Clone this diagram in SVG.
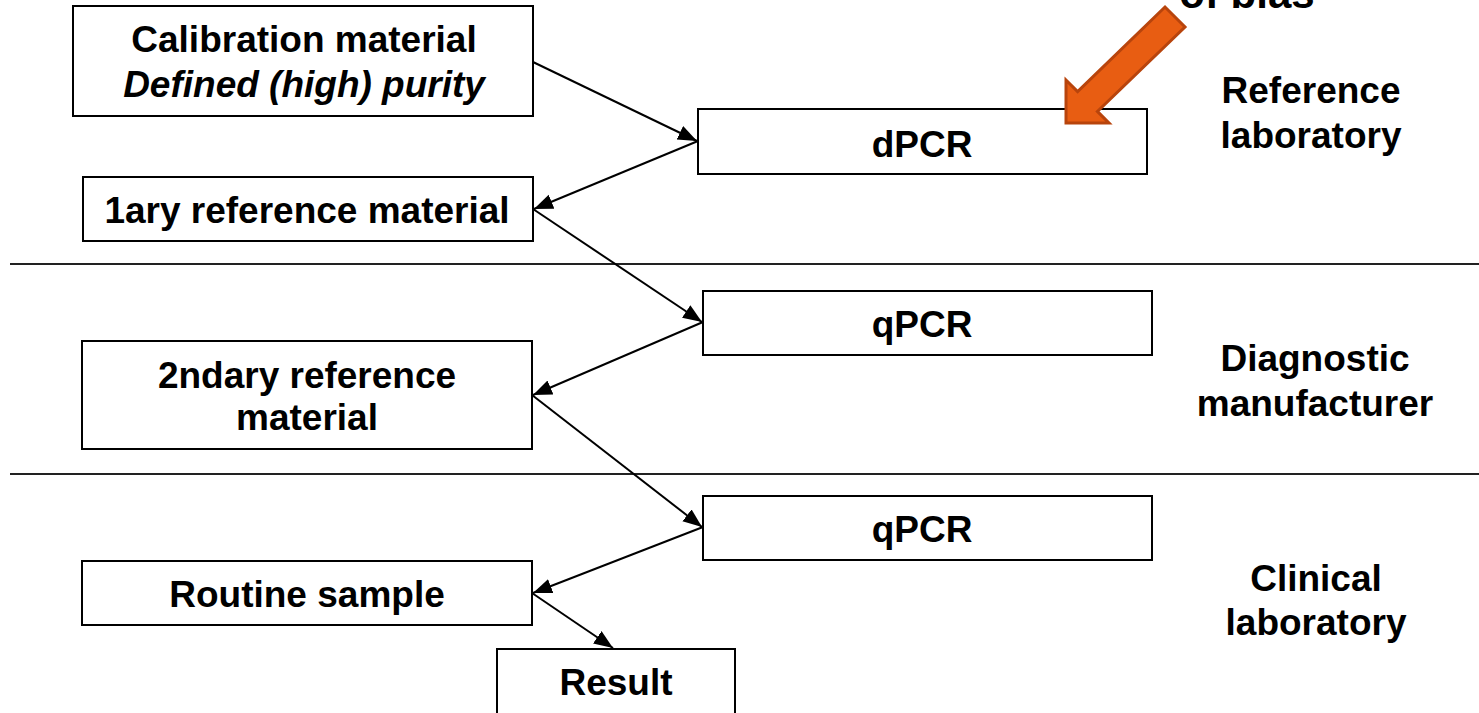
<svg xmlns="http://www.w3.org/2000/svg" width="1479" height="713" viewBox="0 0 1479 713">
<style>
.box{fill:#fff;stroke:#000;stroke-width:2}
.t{font-family:"Liberation Sans",Arial,sans-serif;font-weight:bold;font-size:37px;fill:#000;text-anchor:middle}
.it{font-style:italic}
.sep{stroke:#222;stroke-width:2}
.con{stroke:#000;stroke-width:2;fill:none;marker-end:url(#ah)}
</style>
<defs>
<marker id="ah" markerUnits="userSpaceOnUse" markerWidth="22" markerHeight="18" refX="19" refY="7.5" orient="auto">
<path d="M0,0 L19,7.5 L0,15 z" fill="#000"/>
</marker>
</defs>
<rect width="1479" height="713" fill="#fff"/>
<g id="separators">
<line class="sep" x1="10" y1="264" x2="1479" y2="264"/>
<line class="sep" x1="10" y1="474" x2="1479" y2="474"/>
</g>
<g id="calibration">
<rect class="box" x="73" y="6" width="460" height="110"/>
<text class="t" x="304" y="52">Calibration material</text>
<text class="t it" x="304" y="97">Defined (high) purity</text>
</g>
<g id="dpcr">
<rect class="box" x="698" y="109" width="449" height="65"/>
<text class="t" x="922" y="157">dPCR</text>
</g>
<g id="primary">
<rect class="box" x="83" y="177" width="450" height="64"/>
<text class="t" x="307" y="223">1ary reference material</text>
</g>
<g id="qpcr1">
<rect class="box" x="703" y="291" width="449" height="64"/>
<text class="t" x="922" y="337">qPCR</text>
</g>
<g id="secondary">
<rect class="box" x="82" y="341" width="450" height="108"/>
<text class="t" x="307" y="388">2ndary reference</text>
<text class="t" x="307" y="430">material</text>
</g>
<g id="qpcr2">
<rect class="box" x="703" y="496" width="449" height="64"/>
<text class="t" x="922" y="542">qPCR</text>
</g>
<g id="routine">
<rect class="box" x="82" y="561" width="450" height="64"/>
<text class="t" x="307" y="607">Routine sample</text>
</g>
<g id="result">
<rect class="box" x="497" y="649" width="238" height="80"/>
<text class="t" x="616" y="695">Result</text>
</g>
<g id="labels">
<text class="t" x="1311" y="103">Reference</text>
<text class="t" x="1311" y="148">laboratory</text>
<text class="t" x="1315" y="371">Diagnostic</text>
<text class="t" x="1315" y="416">manufacturer</text>
<text class="t" x="1316" y="591">Clinical</text>
<text class="t" x="1316" y="635">laboratory</text>
</g>
<g id="bias">
<path d="M1066,123 L1066,80 L1077.6,91.6 L1165,7 L1185,27 L1097.4,111.4 L1109,123 Z" fill="#E85D12" stroke="#B8440C" stroke-width="3" stroke-linejoin="miter"/>
<text class="t" x="1247" y="8" style="font-size:42px">of bias</text>
</g>
<g id="connectors">
<line class="con" x1="533" y1="62" x2="697" y2="141"/>
<line class="con" x1="698" y1="141" x2="534" y2="209"/>
<line class="con" x1="533" y1="209" x2="702" y2="322"/>
<line class="con" x1="703" y1="322" x2="533" y2="395"/>
<line class="con" x1="532" y1="395" x2="702" y2="527"/>
<line class="con" x1="703" y1="527" x2="533" y2="593"/>
<line class="con" x1="532" y1="593" x2="613" y2="648"/>
</g>
</svg>
